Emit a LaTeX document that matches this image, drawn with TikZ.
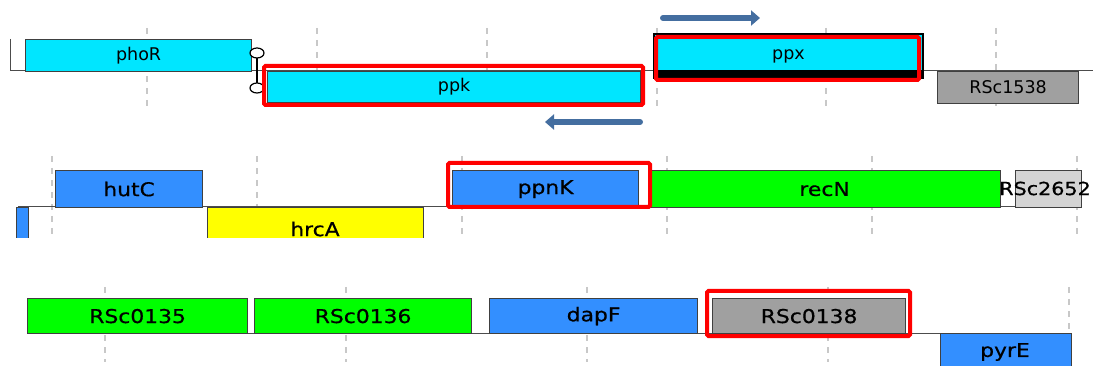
\documentclass[tikz,border=0pt]{standalone}
\usepackage{fontspec}
\usepackage{xcolor}
\usepackage{tikz}
\usetikzlibrary{arrows.meta}
\setmainfont{DejaVu Sans}
\newfontfamily\rowfont[FakeStretch=1.15,FakeBold=0.6]{DejaVu Sans}
\definecolor{genecyan}{RGB}{0,230,255}
\definecolor{geneblue}{RGB}{51,143,255}
\definecolor{genegreen}{RGB}{0,255,0}
\definecolor{geneyellow}{RGB}{255,255,0}
\definecolor{genegray}{RGB}{160,160,160}
\definecolor{genelight}{RGB}{212,212,212}
\definecolor{arrowblue}{RGB}{68,110,160}
\definecolor{gridgray}{RGB}{200,200,200}

\begin{document}
\begin{tikzpicture}[x=1pt,y=-1pt,
  gene/.style={draw=black!75,line width=1.2pt,inner sep=0pt,anchor=north west,font=\fontsize{17.5}{17.5}\selectfont},
  biggene/.style={gene,font=\rowfont\fontsize{19}{19}\selectfont},
  hilite/.style={draw=red,line width=4pt,rounded corners=1.5pt},
  gridmark/.style={gridgray,line width=1.5pt,dash pattern=on 6pt off 6pt},
  axis/.style={black!70,line width=1pt},
  dirarrow/.style={arrowblue,line width=6pt,line cap=round,-{Triangle[length=9pt,width=15pt]}}]
\useasboundingbox (0,0) rectangle (1093,366);

% row 1
\foreach \gx in {147,317,487,657,826,996}
  \draw[gridmark] (\gx,28)--(\gx,106);
\draw[axis] (10,39)--(10,71)--(1093,71);
\node[gene,fill=genecyan,minimum width=226,minimum height=32] (phoR) at (25,39) {phoR};
\node[gene,fill=genecyan,minimum width=373,minimum height=31] (ppk) at (267,71) {ppk};
\node[gene,draw=black,line width=2pt,fill=genecyan,minimum width=269,minimum height=44] (ppx) at (653,33) {\raisebox{-2pt}{ppx}};
\fill[black] (653,70) rectangle (922,77);
\node[gene,fill=genegray,minimum width=141,minimum height=32] (RSc1538) at (937,71) {RSc1538};
\draw[line width=2.5pt] (257,57)--(257,84);
\draw[line width=1.2pt,fill=white] (257,53) ellipse (7 and 5);
\draw[line width=1.2pt,fill=white] (257,88) ellipse (7 and 5);
\draw[hilite] (264,66) rectangle (643,105);
\draw[hilite] (656,37) rectangle (919,80);
\coordinate (fwdA) at (663,18);
\coordinate (fwdB) at (760,18);
\coordinate (revA) at (640,122);
\coordinate (revB) at (545,122);
\draw[dirarrow] (fwdA)--(fwdB);
\draw[dirarrow] (revA)--(revB);

% row 2
\begin{scope}
\clip (0,150) rectangle (1093,238);
\foreach \gx in {52,257,462,667,872,1077}
  \draw[gridmark] (\gx,156)--(\gx,240);
\draw[axis] (18,207)--(1080,207);
\node[biggene,fill=geneblue,minimum width=12,minimum height=40] (cutgene) at (16,207) {};
\node[biggene,fill=geneblue,minimum width=147,minimum height=37] (hutC) at (55,170) {hutC};
\node[biggene,fill=geneyellow,minimum width=216,minimum height=45] (hrcA) at (207,207) {};
\node[font=\rowfont\fontsize{19}{19}\selectfont] (hrcAlabel) at (315,229) {hrcA};
\node[biggene,fill=geneblue,minimum width=186,minimum height=37] (ppnK) at (452,170) {ppnK};
\node[biggene,fill=genegreen,minimum width=352,minimum height=37] (recN) at (648,170) {recN};
\node[biggene,fill=genelight,minimum width=66,minimum height=37] (RSc2652) at (1015,170) {};
\end{scope}
\node[font=\rowfont\fontsize{18}{18}\selectfont,inner sep=0pt] (RSc2652label) at (1045,188.5) {RSc2652};
\draw[hilite] (448,163) rectangle (650,207);

% row 3
\foreach \gx in {105,346,587,828,1069}
  \draw[gridmark] (\gx,287)--(\gx,362);
\draw[axis] (27,333)--(1070,333);
\node[biggene,fill=genegreen,minimum width=220,minimum height=35] (RSc0135) at (27,298) {RSc0135};
\node[biggene,fill=genegreen,minimum width=217,minimum height=35] (RSc0136) at (254,298) {RSc0136};
\node[biggene,fill=geneblue,minimum width=208,minimum height=35] (dapF) at (489,298) {dapF};
\node[biggene,fill=genegray,minimum width=193,minimum height=35] (RSc0138) at (712,298) {RSc0138};
\node[biggene,fill=geneblue,minimum width=131,minimum height=40] (pyrE) at (940,333) {};
\node[font=\rowfont\fontsize{19}{19}\selectfont] (pyrElabel) at (1005,352) {pyrE};
\draw[hilite] (707,291) rectangle (910,336);
\end{tikzpicture}
\end{document}
